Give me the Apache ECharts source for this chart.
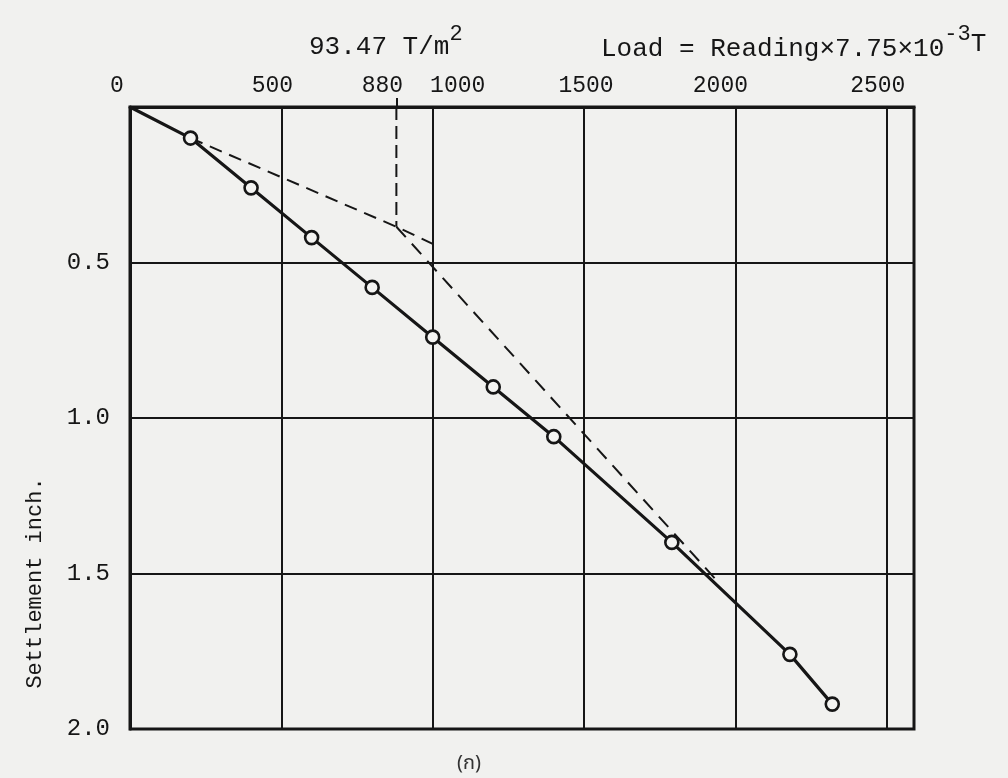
<!DOCTYPE html>
<html>
<head>
<meta charset="utf-8">
<script src="https://cdn.jsdelivr.net/npm/echarts@6/dist/echarts.min.js"></script>
<style>
  html, body { margin: 0; padding: 0; background: #f1f1ef; }
  #chart { width: 1008px; height: 778px; }
</style>
</head>
<body>
<div id="chart"></div>
<script>
// Plate load test: dial reading vs settlement
const loadReading = [0, 200, 400, 600, 800, 1000, 1200, 1400, 1790, 2180, 2320];
const settlement  = [0, 0.10, 0.26, 0.42, 0.58, 0.74, 0.90, 1.06, 1.40, 1.76, 1.92];

// construction lines used to pick the yield reading
const initialTangent = [[200, 0.10], [880, 0.385], [1000, 0.44]];
const yieldDrop      = [[880, 0], [880, 0.385]];
const laterTangent   = [[880, 0.385], [1950, 1.535]];

const xTickLabels = [0, 500, 880, 1000, 1500, 2000, 2500];
const xExtraTick  = [880];
const yTickLabels = [0.5, 1.0, 1.5, 2.0];

const INK = '#161616';
const MONO = '"Liberation Mono", "DejaVu Sans Mono", monospace';

// hand-lettered labels sit a little off their gridlines
const labelNudge = { 0: -13, 500: -9, 880: -14, 1000: 25, 1500: 2, 2000: -15, 2500: -9 };
const labelRich = {};
xTickLabels.forEach(v => {
  const d = labelNudge[v] || 0;
  labelRich['k' + v] = {
    fontFamily: MONO, fontSize: 23, color: INK,
    padding: d < 0 ? [0, -2 * d, 0, 0] : [0, 0, 0, 2 * d]
  };
});

const measured = loadReading.map((x, i) => {
  const item = { value: [x, settlement[i]] };
  if (i === 0) item.symbol = 'none';
  return item;
});

const chart = echarts.init(document.getElementById('chart'), null, { renderer: 'canvas' });

chart.setOption({
  backgroundColor: '#f1f1ef',
  animation: false,
  title: [
    {
      text: '93.47 T/m{s|2}',
      left: 304, top: 18,
      textStyle: {
        fontFamily: MONO, fontSize: 26, fontWeight: 'normal', color: INK,
        rich: { s: { fontFamily: MONO, fontSize: 22, color: INK, padding: [0, 0, 26, 0] } }
      }
    },
    {
      text: 'Load = Reading×7.75×10{s|-3}{t|T}',
      left: 596, top: 18,
      textStyle: {
        fontFamily: MONO, fontSize: 26, fontWeight: 'normal', color: INK,
        rich: {
          s: { fontFamily: MONO, fontSize: 22, color: INK, padding: [0, 0, 30, 0] },
          t: { fontFamily: MONO, fontSize: 26, color: INK, padding: [0, 0, 10, 0] }
        }
      }
    },
    {
      text: '(ก)',
      left: 452, top: 750,
      textStyle: {
        fontFamily: '"Noto Sans Thai", "Noto Sans", "DejaVu Sans", sans-serif',
        fontSize: 20, fontWeight: 'normal', color: '#333'
      }
    }
  ],
  grid: {
    left: 130, top: 107, width: 784, height: 622,
    show: true, borderColor: INK, borderWidth: 3, backgroundColor: 'transparent'
  },
  xAxis: [
    {
      type: 'value', position: 'top', min: 0, max: 2590, interval: 500,
      axisLine: { show: true, lineStyle: { color: INK, width: 3 } },
      axisTick: { show: false },
      axisLabel: {
        customValues: xTickLabels,
        fontFamily: MONO, fontSize: 23, color: INK, margin: 10,
        formatter: v => '{k' + v + '|' + v + '}',
        rich: labelRich
      },
      splitLine: { show: true, lineStyle: { color: INK, width: 2 } }
    },
    {
      type: 'value', position: 'top', min: 0, max: 2590,
      axisLine: { show: false },
      axisLabel: { show: false },
      axisTick: { show: true, inside: false, length: 9, customValues: xExtraTick,
                  lineStyle: { color: INK, width: 2 } },
      splitLine: { show: false }
    }
  ],
  yAxis: {
    type: 'value', inverse: true, min: 0, max: 2.0, interval: 0.5,
    name: 'Settlement inch.',
    nameLocation: 'middle', nameGap: 84, nameRotate: 90,
    nameTextStyle: { fontFamily: MONO, fontSize: 22, color: INK, padding: [0, 330, 0, 0] },
    axisLine: { show: true, lineStyle: { color: INK, width: 3 } },
    axisTick: { show: false },
    axisLabel: {
      customValues: yTickLabels,
      fontFamily: MONO, fontSize: 24, color: INK, margin: 20,
      formatter: v => v.toFixed(1)
    },
    splitLine: { show: true, lineStyle: { color: INK, width: 2 } }
  },
  series: [
    {
      type: 'line', data: initialTangent, symbol: 'none', silent: true,
      lineStyle: { color: INK, width: 2, type: [13, 8] }, z: 2
    },
    {
      type: 'line', data: yieldDrop, symbol: 'none', silent: true,
      lineStyle: { color: INK, width: 2, type: [13, 6] }, z: 2
    },
    {
      type: 'line', data: laterTangent, symbol: 'none', silent: true,
      lineStyle: { color: INK, width: 2, type: [14, 9] }, z: 2
    },
    {
      type: 'line', data: measured,
      symbol: 'circle', symbolSize: 13,
      itemStyle: { color: '#f4f4f2', borderColor: INK, borderWidth: 2.6 },
      lineStyle: { color: INK, width: 3.2 }, z: 3
    }
  ]
});
</script>
</body>
</html>
